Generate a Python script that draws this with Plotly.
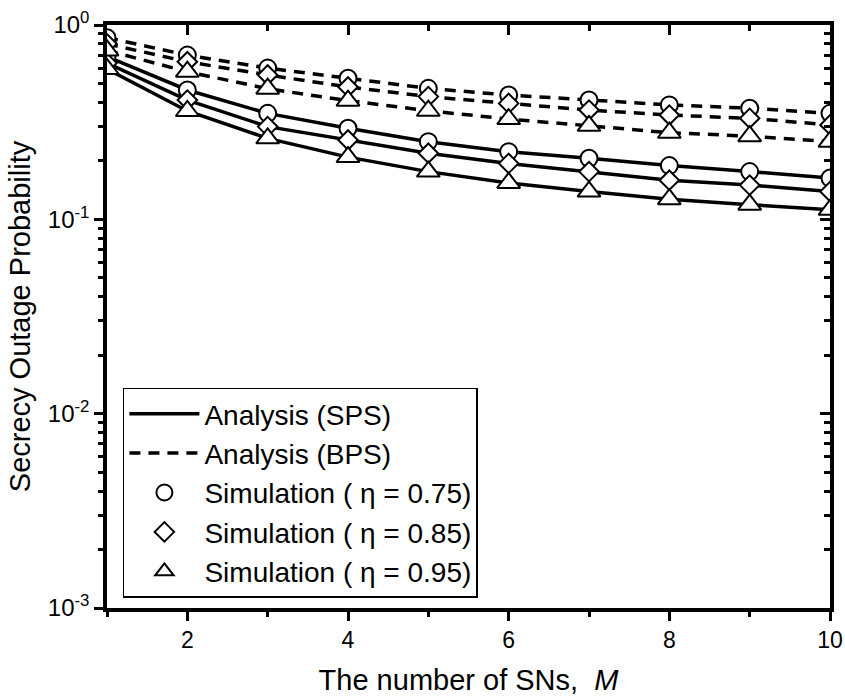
import plotly.graph_objects as go

# ---- data ----
M = [1, 2, 3, 4, 5, 6, 7, 8, 9, 10]

sps_075 = [0.687, 0.463, 0.351, 0.294, 0.251, 0.223, 0.206, 0.189, 0.176, 0.163]
sps_085 = [0.637, 0.411, 0.300, 0.256, 0.219, 0.194, 0.176, 0.159, 0.150, 0.139]
sps_095 = [0.594, 0.361, 0.261, 0.209, 0.176, 0.154, 0.139, 0.127, 0.119, 0.112]

bps_075 = [0.860, 0.700, 0.600, 0.532, 0.472, 0.436, 0.411, 0.388, 0.373, 0.351]
bps_085 = [0.800, 0.647, 0.553, 0.480, 0.428, 0.395, 0.365, 0.344, 0.331, 0.306]
bps_095 = [0.740, 0.575, 0.470, 0.408, 0.362, 0.328, 0.303, 0.279, 0.268, 0.251]

etas = ["0.75", "0.85", "0.95"]
symbols = ["circle", "diamond", "triangle-up"]

x_major = [2, 4, 6, 8, 10]
x_minor = [1, 3, 5, 7, 9]
y_major = [0.001, 0.01, 0.1, 1]
y_major_text = ["10<sup>-3</sup>", "10<sup>-2</sup>", "10<sup>-1</sup>", "10<sup>0</sup>"]
y_minor = [m * 10 ** e for e in (-3, -2, -1) for m in range(2, 10)]

FONT = "Liberation Sans, Arial, sans-serif"
MIRROR_TICK = "black"

fig = go.Figure()

sps_all = [sps_075, sps_085, sps_095]
bps_all = [bps_075, bps_085, bps_095]

# analysis lines
for i, ys in enumerate(sps_all):
    fig.add_trace(go.Scatter(x=M, y=ys, mode="lines",
                             line=dict(color="black", width=3.5),
                             name="Analysis (SPS)", showlegend=(i == 0),
                             legendrank=1))
for i, ys in enumerate(bps_all):
    fig.add_trace(go.Scatter(x=M, y=ys, mode="lines",
                             line=dict(color="black", width=3.5, dash="11px,8px"),
                             name="Analysis (BPS)", showlegend=(i == 0),
                             legendrank=2))

sizes = [17, 15, 20]
# simulation markers
for i in range(3):
    mk = dict(symbol=symbols[i], size=sizes[i], color="white",
              line=dict(color="black", width=2))
    fig.add_trace(go.Scatter(x=M, y=sps_all[i], mode="markers", marker=mk,
                             name="Simulation ( \u03b7 = " + etas[i] + ")",
                             legendgroup="sim" + str(i), legendrank=3 + i))
    fig.add_trace(go.Scatter(x=M, y=bps_all[i], mode="markers", marker=mk,
                             name="Simulation ( \u03b7 = " + etas[i] + ")",
                             legendgroup="sim" + str(i), showlegend=False))

# invisible copy on the mirrored axes so the top / right inward ticks are drawn
fig.add_trace(go.Scatter(x=M, y=sps_075, xaxis="x2", yaxis="y2", mode="markers",
                         marker=dict(opacity=0, color="white"),
                         showlegend=False, hoverinfo="skip"))

axis_common = dict(showgrid=False, zeroline=False, color="black", automargin=False)

fig.update_layout(
    width=845, height=696,
    margin=dict(l=107, r=15, t=25, b=88),
    paper_bgcolor="white", plot_bgcolor="white",
    font=dict(family=FONT, color="black", size=22),
    xaxis=dict(range=[1, 10], tickmode="array", tickvals=x_major,
               ticks="outside", ticklen=9, tickwidth=3,
               showline=True, linewidth=3.5, linecolor="black", mirror=True,
               tickfont=dict(size=23), ticklabelstandoff=0,
               minor=dict(tickmode="array", tickvals=x_minor, ticks="outside",
                          ticklen=5, tickwidth=3, tickcolor="black"),
               title=dict(text="The number of SNs,  <i>M</i>", font=dict(size=29),
                          standoff=30),
               **axis_common),
    yaxis=dict(type="log", range=[-3, 0], tickmode="array", tickvals=y_major,
               ticktext=y_major_text, ticks="outside", ticklen=9, tickwidth=3,
               showline=True, linewidth=3.5, linecolor="black", mirror=True,
               tickfont=dict(size=24),
               minor=dict(tickmode="array", tickvals=y_minor, ticks="outside",
                          ticklen=5, tickwidth=3, tickcolor="black"),
               title=dict(text="Secrecy Outage Probability", font=dict(size=29),
                          standoff=10),
               **axis_common),
    xaxis2=dict(overlaying="x", side="top", anchor="y2", range=[1, 10],
                tickmode="array", tickvals=x_major, ticks="inside", ticklen=10,
                tickwidth=3, tickcolor=MIRROR_TICK, showticklabels=False, showline=False,
                minor=dict(tickmode="array", tickvals=x_minor, ticks="inside",
                           ticklen=6, tickwidth=3, tickcolor=MIRROR_TICK),
                **axis_common),
    yaxis2=dict(overlaying="y", side="right", anchor="x2", type="log", range=[-3, 0],
                tickmode="array", tickvals=y_major, ticks="inside", ticklen=10,
                tickwidth=3, tickcolor=MIRROR_TICK, showticklabels=False, showline=False,
                minor=dict(tickmode="array", tickvals=y_minor, ticks="inside",
                           ticklen=6, tickwidth=3, tickcolor=MIRROR_TICK),
                **axis_common),
    legend=dict(x=0.022, y=0.018, xanchor="left", yanchor="bottom",
                bgcolor="white", bordercolor="black", borderwidth=1.5,
                font=dict(size=28, family=FONT), itemwidth=70,
                tracegroupgap=0, traceorder="normal"),
    showlegend=True,
)

fig.write_html("out.html")
